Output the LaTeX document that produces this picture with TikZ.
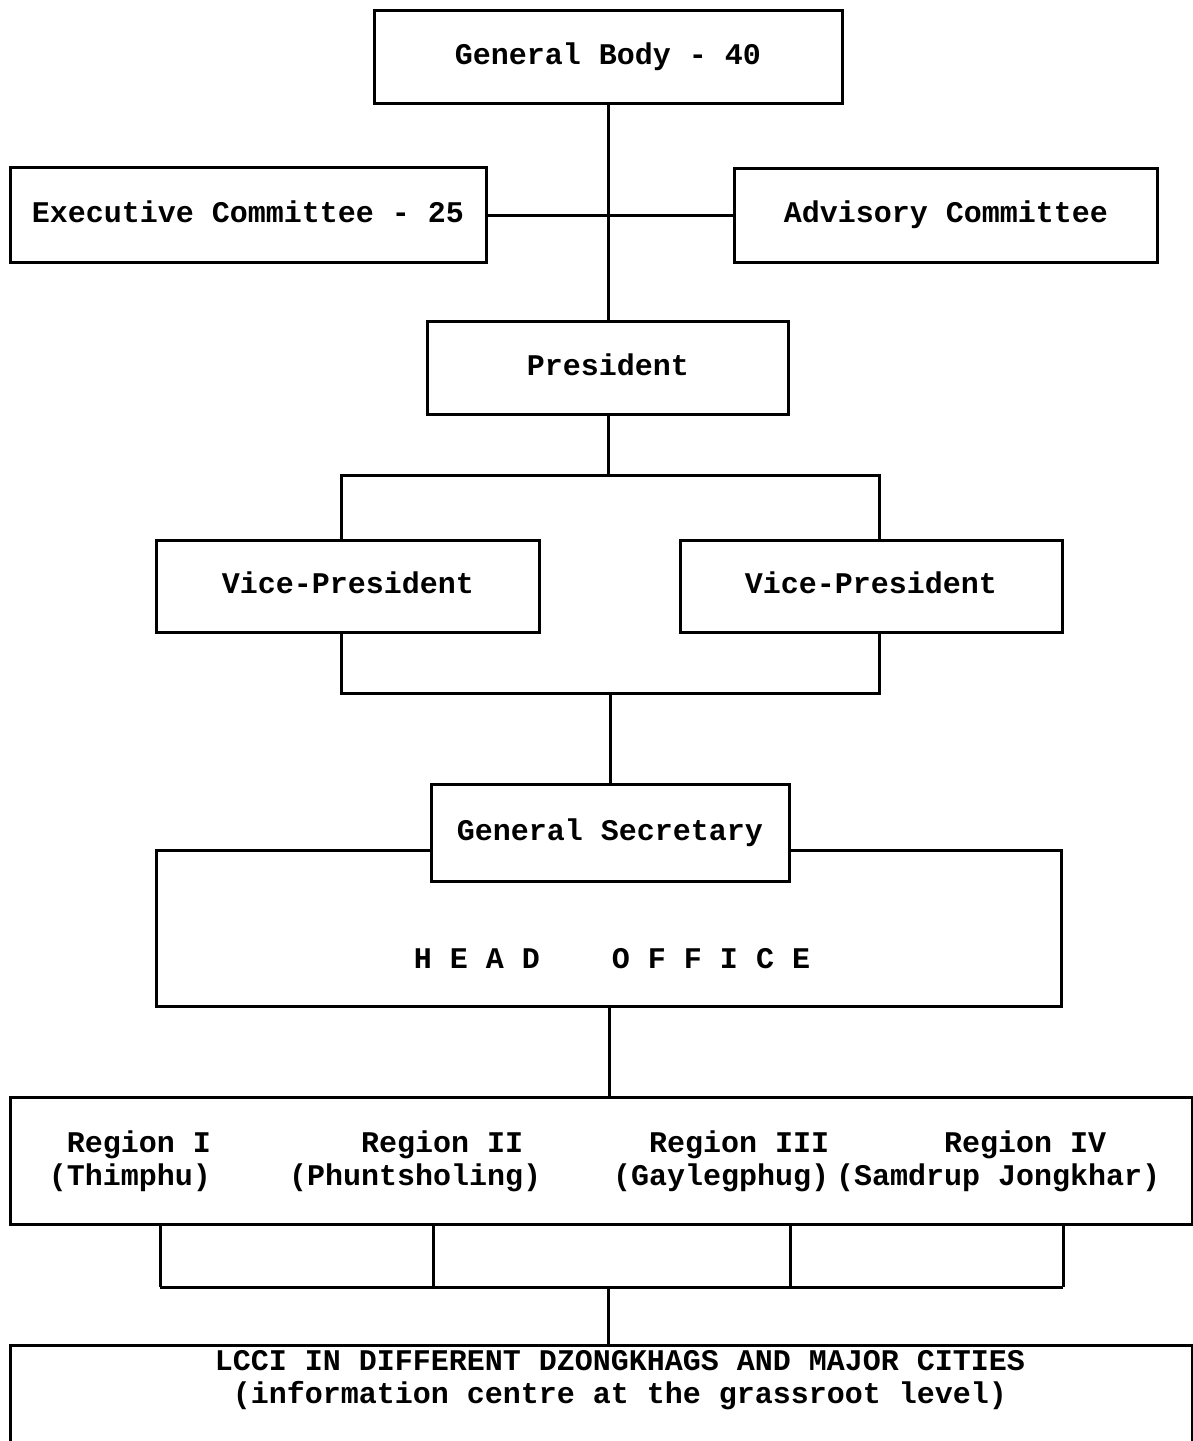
\documentclass[tikz,border=0pt]{standalone}
\usepackage{fontspec}
\setmonofont{Liberation Mono}
\usetikzlibrary{calc}

\newcommand{\orgfont}{\ttfamily\bfseries\fontsize{30pt}{33pt}\selectfont}

\begin{document}
\begin{tikzpicture}[x=1pt,y=-1pt,
    box/.style={draw, line width=3pt, fill=white, inner sep=0pt, font=\orgfont,
        text height=21pt, text depth=6pt},
    txt/.style={inner sep=0pt, font=\orgfont},
    link/.style={line width=3pt}]

\useasboundingbox (0,0) rectangle (1192,1441);

% Top level
\node[box, minimum width=468, minimum height=93] (gb) at (608,57) {General Body - 40};
\node[box, minimum width=476, minimum height=95] (exec) at (248,215) {Executive Committee - 25};
\node[box, minimum width=423, minimum height=94] (adv) at (946,215) {Advisory Committee};
\node[box, minimum width=361, minimum height=93] (pres) at (608,368) {President};

\draw[link] (gb.south) -- (pres.north);
\draw[link] (exec.east) -- (adv.west);

% Vice-presidents
\node[box, minimum width=383, minimum height=92] (vpa) at (348,586) {Vice-President};
\node[box, minimum width=382, minimum height=92] (vpb) at (871,586) {Vice-President};
\coordinate (vptl) at (341,475);
\coordinate (vptr) at (879,475);
\coordinate (vpbl) at (341,693);
\coordinate (vpbr) at (879,693);

\draw[link] (pres.south) -- (pres.south |- vptl);
\draw[link] (vptl |- vpa.north) -- (vptl) -- (vptr) -- (vptr |- vpb.north);
\draw[link] (vpbl |- vpa.south) -- (vpbl) -- (vpbr) -- (vpbr |- vpb.south);

% Head office with general secretary on top
\node[box, minimum width=905, minimum height=156] (ho) at (609,928) {};
\node[txt] (hotxt) at (612,959) {H~E~A~D~~~~O~F~F~I~C~E};
\node[box, minimum width=358, minimum height=97] (gs) at (610,833) {General Secretary};

\draw[link] (gs.north |- vpbl) -- (gs.north);

% Regions
\node[box, minimum width=1182, minimum height=127] (regs) at (601,1161) {};
\node[txt, align=right, anchor=east] (r1) at (211,1161) {Region I\\(Thimphu)};
\node[txt, align=left, anchor=west] (r2) at (289,1161) {~~~~Region II\\(Phuntsholing)};
\node[txt, align=left, anchor=west] (r3) at (613,1161) {~~Region III\\(Gaylegphug)};
\node[txt, align=left, anchor=west] (r4) at (836,1161) {~~~~~~Region IV\\(Samdrup Jongkhar)};

\draw[link] (ho.south) -- (ho.south |- regs.north);

\foreach \fx [count=\i] in {160,433,790,1063}
{
\coordinate (foot\i) at (\fx,1287);
\draw[link] (foot\i |- regs.south) -- (foot\i);
}
\draw[link] (foot1) -- (foot4);
\coordinate (regbar) at (608,1287);

% Local chambers
\node[box, minimum width=1182, minimum height=200] (lcci) at (601,1445) {};
\node[txt, align=center] (lccitxt) at (620,1380)
  {LCCI IN DIFFERENT DZONGKHAGS AND MAJOR CITIES\\(information centre at the grassroot level)};

\draw[link] (regbar) -- (regbar |- lcci.north);

\end{tikzpicture}
\end{document}
